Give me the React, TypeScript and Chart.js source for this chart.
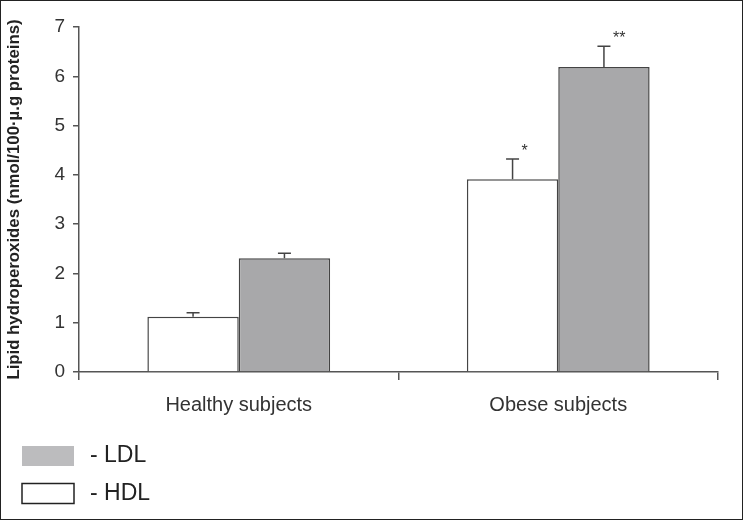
import React, { useEffect, useRef } from "react";
import { Chart, registerables } from "chart.js";

Chart.register(...registerables);

const categories = ["Healthy subjects", "Obese subjects"];
const hdlValues = [1.12, 3.91];
const ldlValues = [2.31, 6.19];
const hdlErrors = [0.08, 0.41];
const ldlErrors = [0.1, 0.42];
const hdlMarks = ["", "*"];
const ldlMarks = ["", "**"];
const yTicks = [0, 1, 2, 3, 4, 5, 6, 7];
const yTitle = "Lipid hydroperoxides (nmol/100·µ.g proteins)";
const seriesNames = ["HDL", "LDL"];

const FONT = "'Liberation Sans', Arial, sans-serif";
const INK = "#444";

const errorPlugin = {
  id: "errorBars",
  afterDatasetsDraw(chart: any) {
    const ctx = chart.ctx;
    const yScale = chart.scales.y;
    chart.data.datasets.forEach((ds: any, di: number) => {
      const meta = chart.getDatasetMeta(di);
      meta.data.forEach((bar: any, i: number) => {
        const v = ds.data[i];
        const e = ds.errors[i];
        const yTop = yScale.getPixelForValue(v);
        const yErr = yScale.getPixelForValue(v + e);
        const x = bar.x;
        ctx.save();
        ctx.strokeStyle = INK;
        ctx.lineWidth = 1.5;
        ctx.beginPath();
        ctx.moveTo(x, yTop);
        ctx.lineTo(x, yErr);
        ctx.moveTo(x - 6.5, yErr);
        ctx.lineTo(x + 6.5, yErr);
        ctx.stroke();
        const m = ds.marks[i];
        if (m) {
          ctx.fillStyle = "#333";
          ctx.font = `16px ${FONT}`;
          ctx.textAlign = "left";
          ctx.textBaseline = "alphabetic";
          ctx.fillText(m, x + 9, yErr - 3);
        }
        ctx.restore();
      });
    });
  },
};

const legendPlugin = {
  id: "customLegend",
  afterDraw(chart: any) {
    const ctx = chart.ctx;
    const items = [...chart.data.datasets].reverse();
    items.forEach((ds: any, k: number) => {
      const top = 446 + k * 37.5;
      ctx.save();
      ctx.fillStyle = ds.legendFill;
      ctx.fillRect(22, top, 52, 20);
      if (ds.legendBorder) {
        ctx.strokeStyle = "#222";
        ctx.lineWidth = 1.5;
        ctx.strokeRect(22, top, 52, 20);
      }
      ctx.fillStyle = "#222";
      ctx.font = `23px ${FONT}`;
      ctx.textAlign = "left";
      ctx.textBaseline = "middle";
      ctx.fillText("- " + ds.label, 90, top + 10);
      ctx.restore();
    });
  },
};

export default function App() {
  const ref = useRef<HTMLCanvasElement>(null);
  useEffect(() => {
    const chart = new Chart(ref.current as HTMLCanvasElement, {
      type: "bar",
      data: {
        labels: categories,
        datasets: [
          {
            label: seriesNames[0],
            data: hdlValues,
            errors: hdlErrors,
            marks: hdlMarks,
            backgroundColor: "#ffffff",
            borderColor: INK,
            borderWidth: 1.5,
            legendFill: "#ffffff",
            legendBorder: true,
            categoryPercentage: 0.572,
            barPercentage: 1.0,
          } as any,
          {
            label: seriesNames[1],
            data: ldlValues,
            errors: ldlErrors,
            marks: ldlMarks,
            backgroundColor: "#a8a8aa",
            borderColor: INK,
            borderWidth: 1.5,
            legendFill: "#bcbcbe",
            legendBorder: false,
            categoryPercentage: 0.572,
            barPercentage: 1.0,
          } as any,
        ],
      },
      options: {
        animation: false,
        responsive: false,
        maintainAspectRatio: false,
        layout: { padding: { top: 27, right: 25, bottom: 88, left: 0 } },
        plugins: { legend: { display: false }, tooltip: { enabled: false } },
        scales: {
          x: {
            grid: {
              drawOnChartArea: false,
              drawTicks: true,
              tickLength: 8,
              color: "#555",
              lineWidth: 1.5,
              offset: true,
            },
            border: { display: true, color: "#555", width: 1.5 },
            ticks: { color: "#333", font: { family: FONT, size: 20 }, padding: 13 },
            afterFit(scale: any) {
              scale.height = 60;
            },
          },
          y: {
            min: 0,
            max: 7,
            afterBuildTicks(scale: any) {
              scale.ticks = yTicks.map((v) => ({ value: v }));
            },
            grid: {
              drawOnChartArea: false,
              drawTicks: true,
              tickLength: 6,
              color: "#555",
              lineWidth: 1.5,
            },
            border: { display: true, color: "#555", width: 1.5 },
            ticks: { color: "#333", font: { family: FONT, size: 19 }, padding: 8 },
            title: {
              display: true,
              text: yTitle,
              color: "#222",
              font: { family: FONT, size: 16.8, weight: "bold" },
              padding: { top: 4, bottom: 0 },
            },
            afterFit(scale: any) {
              scale.width = 79;
            },
          },
        },
      },
      plugins: [errorPlugin, legendPlugin],
    } as any);
    return () => chart.destroy();
  }, []);
  return (
    <div
      style={{
        position: "fixed",
        left: 0,
        top: 0,
        width: 743,
        height: 520,
        boxSizing: "border-box",
        border: "1px solid #222",
        background: "#fff",
        overflow: "hidden",
      }}
    >
      <canvas
        ref={ref}
        width={743}
        height={520}
        style={{ position: "absolute", left: -1, top: -1, width: 743, height: 520 }}
      />
    </div>
  );
}
